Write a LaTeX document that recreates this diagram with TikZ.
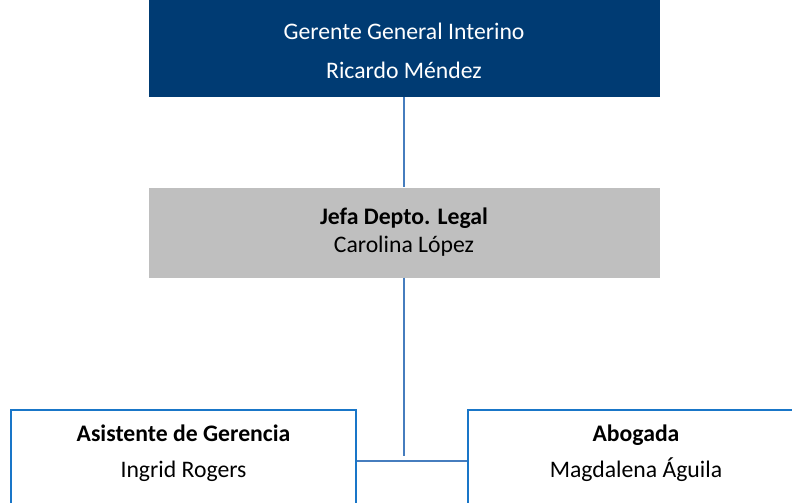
\documentclass[tikz,border=0pt]{standalone}
\usepackage{fontspec}
\setmainfont{Carlito}
\usepackage{tikz}
\definecolor{navyfill}{RGB}{0,59,115}
\definecolor{greyfill}{RGB}{191,191,191}
\definecolor{framblue}{RGB}{25,118,200}
\definecolor{linkblue}{RGB}{70,125,190}

\begin{document}
\begin{tikzpicture}[x=1pt, y=-1pt, node distance={184pt},
  link/.style = {draw=linkblue, line width=2pt},
  head/.style = {fill=navyfill, text=white, minimum width=511pt, minimum height=97pt, align=center, font=\fontsize{23.7}{39}\selectfont},
  legal/.style = {fill=greyfill, minimum width=511pt, minimum height=90pt, align=center, font=\fontsize{23.7}{28}\selectfont},
  staff/.style = {draw=framblue, line width=2pt, minimum height=120pt, anchor=north, align=center, font=\fontsize{23.7}{36}\selectfont}]
  \useasboundingbox (0,0) rectangle (792,503);
  \clip (0,0) rectangle (792,503);
  \node[head] (gg) at (404,48.5) {\rule{0pt}{22pt}Gerente General Interino\\Ricardo Méndez};
  \node[legal] (jefa) [below of=gg] {\textbf{Jefa Depto. Legal}\\Carolina López};
  \node[staff, minimum width=345pt] (asist) at (183.5,409) {\textbf{Asistente de Gerencia}\\Ingrid Rogers\\[2pt]\mbox{}};
  \node[staff, minimum width=336pt] (abog) at (636,409) {\textbf{Abogada}\\Magdalena Águila\\[2pt]\mbox{}};
  \coordinate (tee) at (404,456);
  \coordinate (bar) at (0,461);
  \draw[link] (gg) -- (jefa);
  \draw[link] (jefa) -- (tee);
  \draw[link] (asist.east |- bar) -- (abog.west |- bar);
\end{tikzpicture}
\end{document}
